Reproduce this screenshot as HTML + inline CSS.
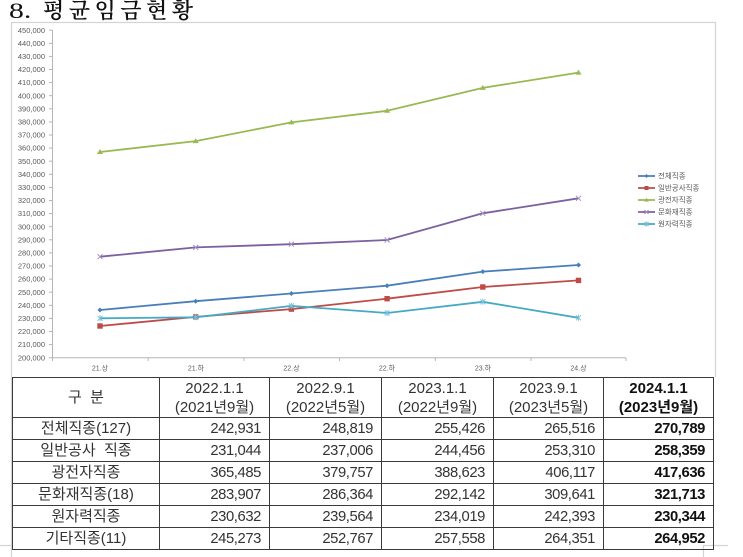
<!DOCTYPE html>
<html>
<head>
<meta charset="utf-8">
<style>
  html,body{margin:0;padding:0;background:#fff;}
  body{width:743px;height:557px;position:relative;overflow:hidden;}
  .title{position:absolute;top:-2px;font-family:"Liberation Serif","Noto Serif CJK SC",serif;font-size:22px;color:#111;white-space:nowrap;line-height:26px;}
  svg{position:absolute;left:0;top:0;}
  table{position:absolute;left:12px;top:377px;border-collapse:collapse;table-layout:fixed;width:701px;
    font-family:"Liberation Sans","Noto Sans CJK KR",sans-serif;color:#333;}
  td{border:1.5px solid #3a3a3a;padding:0;height:21px;line-height:20px;font-size:15px;overflow:hidden;white-space:nowrap;}
  tr.h td{height:39px;line-height:19px;text-align:center;}
  td.l{text-align:center;}
  td.n{text-align:right;padding-right:8px;letter-spacing:-0.4px;font-size:14.8px;}
  td.b{font-weight:bold;color:#111;}
</style>
</head>
<body>
<div class="title" style="left:9px;transform:scaleX(1.35);transform-origin:left;">8.</div>
<div class="title" style="left:43px;letter-spacing:4.5px;font-weight:600;">평균임금현황</div>

<svg width="743" height="557" viewBox="0 0 743 557" xmlns="http://www.w3.org/2000/svg">
  <g stroke="#d4d4d4" stroke-width="1.2" fill="none">
    <line x1="11.5" y1="22.5" x2="715.5" y2="22.5"/>
    <line x1="11.5" y1="22" x2="11.5" y2="545"/>
    <line x1="715.5" y1="22" x2="715.5" y2="377"/>
    <polyline points="0,545.5 11.5,545.5 11.5,557"/>
    <polyline points="703.5,557 703.5,545.5 728,545.5"/>
  </g>
  <g stroke="#b5b5b5" stroke-width="1" fill="none">
    <line x1="52.5" y1="30" x2="52.5" y2="358"/>
    <line x1="52" y1="357.7" x2="626" y2="357.7"/>
    <line x1="52.5" y1="358" x2="52.5" y2="361"/>
    <line x1="148.2" y1="358" x2="148.2" y2="361"/>
    <line x1="243.9" y1="358" x2="243.9" y2="361"/>
    <line x1="339.6" y1="358" x2="339.6" y2="361"/>
    <line x1="435.3" y1="358" x2="435.3" y2="361"/>
    <line x1="531" y1="358" x2="531" y2="361"/>
    <line x1="626" y1="358" x2="626" y2="361"/>
  </g>
  <g stroke="#b5b5b5" stroke-width="1">
    <line x1="49" y1="30.2" x2="52" y2="30.2"/><line x1="49" y1="43.3" x2="52" y2="43.3"/><line x1="49" y1="56.4" x2="52" y2="56.4"/><line x1="49" y1="69.5" x2="52" y2="69.5"/><line x1="49" y1="82.6" x2="52" y2="82.6"/><line x1="49" y1="95.7" x2="52" y2="95.7"/><line x1="49" y1="108.8" x2="52" y2="108.8"/><line x1="49" y1="121.9" x2="52" y2="121.9"/><line x1="49" y1="135" x2="52" y2="135"/><line x1="49" y1="148.1" x2="52" y2="148.1"/><line x1="49" y1="161.2" x2="52" y2="161.2"/><line x1="49" y1="174.3" x2="52" y2="174.3"/><line x1="49" y1="187.4" x2="52" y2="187.4"/><line x1="49" y1="200.5" x2="52" y2="200.5"/><line x1="49" y1="213.6" x2="52" y2="213.6"/><line x1="49" y1="226.7" x2="52" y2="226.7"/><line x1="49" y1="239.8" x2="52" y2="239.8"/><line x1="49" y1="252.9" x2="52" y2="252.9"/><line x1="49" y1="266" x2="52" y2="266"/><line x1="49" y1="279.1" x2="52" y2="279.1"/><line x1="49" y1="292.2" x2="52" y2="292.2"/><line x1="49" y1="305.3" x2="52" y2="305.3"/><line x1="49" y1="318.4" x2="52" y2="318.4"/><line x1="49" y1="331.5" x2="52" y2="331.5"/><line x1="49" y1="344.6" x2="52" y2="344.6"/><line x1="49" y1="357.7" x2="52" y2="357.7"/>
  </g>
  <g font-family="Liberation Sans, sans-serif" font-size="7.5" fill="#595959" text-anchor="end">
    <text x="45" y="32.8">450,000</text><text x="45" y="45.9">440,000</text><text x="45" y="59">430,000</text><text x="45" y="72.1">420,000</text><text x="45" y="85.2">410,000</text><text x="45" y="98.3">400,000</text><text x="45" y="111.4">390,000</text><text x="45" y="124.5">380,000</text><text x="45" y="137.6">370,000</text><text x="45" y="150.7">360,000</text><text x="45" y="163.8">350,000</text><text x="45" y="176.9">340,000</text><text x="45" y="190">330,000</text><text x="45" y="203.1">320,000</text><text x="45" y="216.2">310,000</text><text x="45" y="229.3">300,000</text><text x="45" y="242.4">290,000</text><text x="45" y="255.5">280,000</text><text x="45" y="268.6">270,000</text><text x="45" y="281.7">260,000</text><text x="45" y="294.8">250,000</text><text x="45" y="307.9">240,000</text><text x="45" y="321">230,000</text><text x="45" y="334.1">220,000</text><text x="45" y="347.2">210,000</text><text x="45" y="360.3">200,000</text>
  </g>
  <g font-family="Liberation Sans, Noto Sans CJK KR, sans-serif" font-size="7" fill="#595959" text-anchor="middle">
    <text x="100" y="370.5">21.상</text>
    <text x="196" y="370.5">21.하</text>
    <text x="291.5" y="370.5">22.상</text>
    <text x="387" y="370.5">22.하</text>
    <text x="483" y="370.5">23.하</text>
    <text x="578.5" y="370.5">24.상</text>
  </g>

  <polyline fill="none" stroke="#98b954" stroke-width="1.8" points="100,152 195.7,141.1 291.4,122.4 387.1,110.8 482.8,87.9 578.5,72.6"/>
  <g fill="#98b954">
    <polygon points="100,149 97,154 103,154"/><polygon points="195.7,138.1 192.7,143.1 198.7,143.1"/><polygon points="291.4,119.4 288.4,124.4 294.4,124.4"/><polygon points="387.1,107.8 384.1,112.8 390.1,112.8"/><polygon points="482.8,84.9 479.8,89.9 485.8,89.9"/><polygon points="578.5,69.6 575.5,74.6 581.5,74.6"/>
  </g>
  <polyline fill="none" stroke="#7d60a0" stroke-width="1.8" points="100,256.7 195.7,247.4 291.4,244.2 387.1,240 482.8,213.3 578.5,198.3"/>
  <g stroke="#a58fc3" stroke-width="1">
    <path d="M97.5,254.2l5,5M102.5,254.2l-5,5"/><path d="M193.2,244.9l5,5M198.2,244.9l-5,5"/><path d="M288.9,241.7l5,5M293.9,241.7l-5,5"/><path d="M384.6,237.5l5,5M389.6,237.5l-5,5"/><path d="M480.3,210.8l5,5M485.3,210.8l-5,5"/><path d="M576,195.8l5,5M581,195.8l-5,5"/>
  </g>
  <polyline fill="none" stroke="#4a7ebb" stroke-width="1.8" points="100,310 195.7,301.2 291.4,293.5 387.1,285.7 482.8,271.6 578.5,265"/>
  <g fill="#4a7ebb">
    <polygon points="100,307.5 102.5,310 100,312.5 97.5,310"/><polygon points="195.7,298.7 198.2,301.2 195.7,303.7 193.2,301.2"/><polygon points="291.4,291 293.9,293.5 291.4,296 288.9,293.5"/><polygon points="387.1,283.2 389.6,285.7 387.1,288.2 384.6,285.7"/><polygon points="482.8,269.1 485.3,271.6 482.8,274.1 480.3,271.6"/><polygon points="578.5,262.5 581,265 578.5,267.5 576,265"/>
  </g>
  <polyline fill="none" stroke="#be4b48" stroke-width="1.8" points="100,326 195.7,316.9 291.4,309.1 387.1,298.7 482.8,287 578.5,280.4"/>
  <g fill="#be4b48">
    <rect x="97.3" y="323.3" width="5.4" height="5.4"/><rect x="193" y="314.2" width="5.4" height="5.4"/><rect x="288.7" y="306.4" width="5.4" height="5.4"/><rect x="384.4" y="296" width="5.4" height="5.4"/><rect x="480.1" y="284.3" width="5.4" height="5.4"/><rect x="575.8" y="277.7" width="5.4" height="5.4"/>
  </g>
  <polyline fill="none" stroke="#46aac5" stroke-width="1.8" points="100,318.3 195.7,317.3 291.4,305.9 387.1,313 482.8,301.8 578.5,317.8"/>
  <g stroke="#7cc3d8" stroke-width="1">
    <path d="M97.5,315.8l5,5M102.5,315.8l-5,5M100,315.3v6"/><path d="M193.2,314.8l5,5M198.2,314.8l-5,5M195.7,314.3v6"/><path d="M288.9,303.4l5,5M293.9,303.4l-5,5M291.4,302.9v6"/><path d="M384.6,310.5l5,5M389.6,310.5l-5,5M387.1,310v6"/><path d="M480.3,299.3l5,5M485.3,299.3l-5,5M482.8,298.8v6"/><path d="M576,315.3l5,5M581,315.3l-5,5M578.5,314.8v6"/>
  </g>

  <g stroke-width="1.8">
    <line x1="638" y1="176" x2="655" y2="176" stroke="#4a7ebb"/>
    <line x1="638" y1="188" x2="655" y2="188" stroke="#be4b48"/>
    <line x1="638" y1="200" x2="655" y2="200" stroke="#98b954"/>
    <line x1="638" y1="212" x2="655" y2="212" stroke="#7d60a0"/>
    <line x1="638" y1="224" x2="655" y2="224" stroke="#46aac5"/>
  </g>
  <polygon points="646.5,174 648.5,176 646.5,178 644.5,176" fill="#4a7ebb"/>
  <rect x="644.5" y="186" width="4" height="4" fill="#be4b48"/>
  <polygon points="646.5,197.8 644.3,201.6 648.7,201.6" fill="#98b954"/>
  <path d="M644.5,210l4,4M648.5,210l-4,4" stroke="#a58fc3" stroke-width="1"/>
  <path d="M644.5,222l4,4M648.5,222l-4,4M646.5,221.5v5" stroke="#7cc3d8" stroke-width="1"/>
  <g font-family="Liberation Sans, Noto Sans CJK KR, sans-serif" font-size="7.5" fill="#595959">
    <text x="658" y="178.7">전체직종</text>
    <text x="658" y="190.7">일반공사직종</text>
    <text x="658" y="202.7">광전자직종</text>
    <text x="658" y="214.7">문화재직종</text>
    <text x="658" y="226.7">원자력직종</text>
  </g>
</svg>

<table>
  <colgroup>
    <col style="width:147px"><col style="width:110px"><col style="width:112px"><col style="width:112px"><col style="width:110px"><col style="width:110px">
  </colgroup>
  <tr class="h">
    <td>구&nbsp; 분</td>
    <td>2022.1.1<br>(2021년9월)</td>
    <td>2022.9.1<br>(2022년5월)</td>
    <td>2023.1.1<br>(2022년9월)</td>
    <td>2023.9.1<br>(2023년5월)</td>
    <td class="b">2024.1.1<br>(2023년9월)</td>
  </tr>
  <tr><td class="l">전체직종(127)</td><td class="n">242,931</td><td class="n">248,819</td><td class="n">255,426</td><td class="n">265,516</td><td class="n b">270,789</td></tr>
  <tr><td class="l">일반공사&nbsp; 직종</td><td class="n">231,044</td><td class="n">237,006</td><td class="n">244,456</td><td class="n">253,310</td><td class="n b">258,359</td></tr>
  <tr><td class="l">광전자직종</td><td class="n">365,485</td><td class="n">379,757</td><td class="n">388,623</td><td class="n">406,117</td><td class="n b">417,636</td></tr>
  <tr><td class="l">문화재직종(18)</td><td class="n">283,907</td><td class="n">286,364</td><td class="n">292,142</td><td class="n">309,641</td><td class="n b">321,713</td></tr>
  <tr><td class="l">원자력직종</td><td class="n">230,632</td><td class="n">239,564</td><td class="n">234,019</td><td class="n">242,393</td><td class="n b">230,344</td></tr>
  <tr><td class="l">기타직종(11)</td><td class="n">245,273</td><td class="n">252,767</td><td class="n">257,558</td><td class="n">264,351</td><td class="n b">264,952</td></tr>
</table>
</body>
</html>
